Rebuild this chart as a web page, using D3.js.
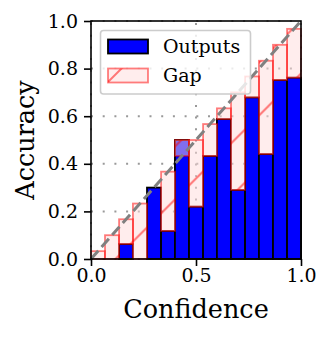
<!DOCTYPE html>
<html>
<head>
<meta charset="utf-8">
<script src="https://cdn.jsdelivr.net/npm/d3@7"></script>
<style>
  html, body { margin: 0; padding: 0; background: #fff; }
  svg { display: block; font-family: "DejaVu Serif", serif; }
</style>
</head>
<body>
<div id="chart"></div>
<script>
// Bin centres (15 confidence bins)
const binCenters = [0.033, 0.1, 0.167, 0.233, 0.3, 0.367, 0.433, 0.5, 0.567, 0.633, 0.7, 0.767, 0.833, 0.9, 0.967];
const binWidth = 1 / 15;

// Accuracy per bin
const outputs = [0, 0, 0.063, 0, 0.30, 0.118, 0.50, 0.22, 0.433, 0.588, 0.29, 0.679, 0.441, 0.752, 0.762];

// Tick labels
const xTicks = [0, 0.5, 1];
const yTicks = [0, 0.2, 0.4, 0.6, 0.8, 1];

const legendItems = ["Outputs", "Gap"];

const width = 332, height = 338;

const svg = d3.select("#chart")
  .append("svg")
  .attr("width", width)
  .attr("height", height);

const x = d3.scaleLinear().domain([0, 1]).range([91, 301]);
const y = d3.scaleLinear().domain([0, 1]).range([259, 21]);

// Hatch patterns (global one for bars, one for the legend handle)
const defs = svg.append("defs");
function hatch(id, offset) {
  const s = 53;
  const p = defs.append("pattern")
    .attr("id", id)
    .attr("patternUnits", "userSpaceOnUse")
    .attr("width", s).attr("height", s)
    .attr("patternTransform", `translate(${offset},0)`);
  [[0, s, s, 0], [-s / 2, s / 2, s / 2, -s / 2], [s / 2, s * 1.5, s * 1.5, s / 2]].forEach(l => {
    p.append("line")
      .attr("x1", l[0]).attr("y1", l[1]).attr("x2", l[2]).attr("y2", l[3])
      .attr("stroke", "rgba(255,0,0,0.5)")
      .attr("stroke-width", 2);
  });
}
hatch("hatch", 3.5);
hatch("hatchLegend", 31);

// Dotted grid
const grid = svg.append("g");
yTicks.forEach(t => {
  grid.append("line")
    .attr("x1", x(0)).attr("x2", x(1))
    .attr("y1", y(t)).attr("y2", y(t));
});
xTicks.forEach(t => {
  grid.append("line")
    .attr("x1", x(t)).attr("x2", x(t))
    .attr("y1", y(0)).attr("y2", y(1));
});
grid.selectAll("line")
  .attr("stroke", "#999")
  .attr("stroke-width", 2)
  .attr("stroke-dasharray", "2,9.7");

// Output bars
svg.append("g")
  .selectAll("rect")
  .data(outputs)
  .enter()
  .append("rect")
  .attr("x", (d, i) => x(binCenters[i] - binWidth / 2))
  .attr("width", x(binWidth) - x(0))
  .attr("y", d => y(d))
  .attr("height", d => y(0) - y(d))
  .attr("fill", "#0000ff")
  .attr("stroke", "#000")
  .attr("stroke-width", 1.8);

// Gap bars
const gapData = outputs.map((d, i) => ({
  x0: binCenters[i] - binWidth / 2,
  lo: Math.min(d, binCenters[i]),
  hi: Math.max(d, binCenters[i])
}));
const gaps = svg.append("g");
["rgba(255,220,220,0.5)", "url(#hatch)"].forEach(fill => {
  gaps.append("g")
    .selectAll("rect")
    .data(gapData)
    .enter()
    .append("rect")
    .attr("x", d => x(d.x0))
    .attr("width", x(binWidth) - x(0))
    .attr("y", d => y(d.hi))
    .attr("height", d => y(d.lo) - y(d.hi))
    .attr("fill", fill);
});
gaps.append("g")
  .selectAll("rect")
  .data(gapData)
  .enter()
  .append("rect")
  .attr("x", d => x(d.x0))
  .attr("width", x(binWidth) - x(0))
  .attr("y", d => y(d.hi))
  .attr("height", d => y(d.lo) - y(d.hi))
  .attr("fill", "none")
  .attr("stroke", "rgba(255,0,0,0.5)")
  .attr("stroke-width", 1.8);

// Perfect calibration diagonal
svg.append("line")
  .attr("x1", x(0)).attr("y1", y(0))
  .attr("x2", x(1)).attr("y2", y(1))
  .attr("stroke", "#808080")
  .attr("stroke-width", 3)
  .attr("stroke-dasharray", "11,5");

// Axes
const xAxis = svg.append("g")
  .attr("transform", `translate(0,${y(0)})`)
  .call(d3.axisBottom(x).tickValues(xTicks).tickFormat(d3.format(".1f")).tickSizeInner(7).tickSizeOuter(0).tickPadding(3));
const yAxis = svg.append("g")
  .attr("transform", `translate(${x(0)},0)`)
  .call(d3.axisLeft(y).tickValues(yTicks).tickFormat(d3.format(".1f")).tickSizeInner(7).tickSizeOuter(0).tickPadding(6));
[xAxis, yAxis].forEach(a => {
  a.select(".domain").remove();
  a.selectAll(".tick line").attr("stroke", "#000").attr("stroke-width", 1.6);
  a.selectAll(".tick text")
    .attr("fill", "#000")
    .style("font-family", "DejaVu Serif")
    .style("font-size", "19px");
});

// Spines
svg.append("rect")
  .attr("x", x(0)).attr("y", y(1))
  .attr("width", x(1) - x(0)).attr("height", y(0) - y(1))
  .attr("fill", "none")
  .attr("stroke", "#000")
  .attr("stroke-width", 1.6);

// Axis labels
svg.append("text")
  .attr("x", (x(0) + x(1)) / 2)
  .attr("y", 318)
  .attr("text-anchor", "middle")
  .style("font-size", "25.5px")
  .text("Confidence");
svg.append("text")
  .attr("transform", `translate(33.5,${(y(0) + y(1)) / 2}) rotate(-90)`)
  .attr("text-anchor", "middle")
  .style("font-size", "25.5px")
  .text("Accuracy");

// Legend
const legend = svg.append("g");
legend.append("rect")
  .attr("x", 100.5).attr("y", 30.5)
  .attr("width", 150).attr("height", 63.5)
  .attr("rx", 3)
  .attr("fill", "rgba(255,255,255,0.8)")
  .attr("stroke", "#ccc")
  .attr("stroke-width", 1.6);
legendItems.forEach((name, i) => {
  const ty = 39.5 + i * 29;
  if (i === 0) {
    legend.append("rect")
      .attr("x", 108).attr("y", ty).attr("width", 40).attr("height", 14)
      .attr("fill", "#0000ff").attr("stroke", "#000").attr("stroke-width", 1.8);
  } else {
    legend.append("rect")
      .attr("x", 108).attr("y", ty).attr("width", 40).attr("height", 14)
      .attr("fill", "rgba(255,220,220,0.5)");
    legend.append("rect")
      .attr("x", 108).attr("y", ty).attr("width", 40).attr("height", 14)
      .attr("fill", "url(#hatchLegend)")
      .attr("stroke", "rgba(255,0,0,0.5)").attr("stroke-width", 1.8);
  }
  legend.append("text")
    .attr("x", 163).attr("y", ty + 13.5)
    .style("font-size", "19px")
    .text(name);
});
</script>
</body>
</html>
